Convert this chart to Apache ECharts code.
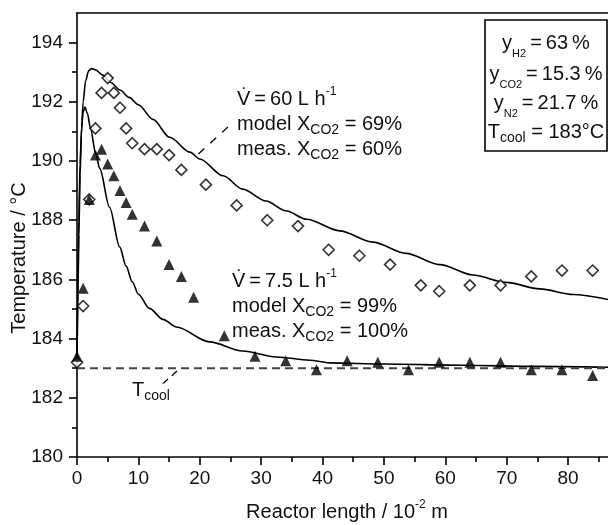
<!DOCTYPE html>
<html><head><meta charset="utf-8">
<script src="https://cdn.jsdelivr.net/npm/echarts@6/dist/echarts.min.js"></script>
<style>html,body{margin:0;padding:0;background:#fff}#c{width:608px;height:525px}</style>
</head><body><div id="c"></div>
<script>
// ---- tick labels ----
const xMajorTicks = [0,10,20,30,40,50,60,70,80];
const xMinorTicks = [5,15,25,35,45,55,65,75,85];
const yMajorTicks = [180,182,184,186,188,190,192,194];
const yMinorTicks = [181,183,185,187,189,191,193];

// ---- measured, 60 L/h (open diamonds) ----
const meas60X = [0,1,2,3,4,5,6,7,8,9,11,13,15,17,21,26,31,36,41,46,51,56,59,64,69,74,79,84];
const meas60T = [183.2,185.1,188.7,191.1,192.3,192.8,192.3,191.8,191.1,190.6,190.4,190.4,190.2,189.7,189.2,188.5,188.0,187.8,187.0,186.8,186.5,185.8,185.6,185.8,185.8,186.1,186.3,186.3];

// ---- measured, 7.5 L/h (filled triangles) ----
const meas75X = [0,1,2,3,4,5,6,7,8,9,11,13,15,17,19,24,29,34,39,44,49,54,59,64,69,74,79,84];
const meas75T = [183.4,185.7,188.7,190.2,190.4,189.9,189.5,189.0,188.6,188.2,187.8,187.3,186.5,186.1,185.4,184.1,183.4,183.25,182.95,183.25,183.2,182.95,183.2,183.2,183.2,182.95,182.95,182.75];

// ---- model, 60 L/h ----
const model60X = [0,0.15,0.3,0.5,0.7,1.0,1.4,1.9,2.4,3.0,4.2,5.5,7,8.5,10,12.4,15.1,18.4,20,23.8,27,30.8,34,37.4,42.8,48.2,53.6,59.1,64.5,69.9,75.4,80.8,86.5];
const model60T = [183.2,185.5,187.5,189.5,190.9,192.0,192.7,193.05,193.12,193.08,192.9,192.65,192.4,192.15,191.9,191.4,190.8,190.3,190.07,189.5,189.05,188.65,188.32,188.03,187.64,187.26,186.88,186.5,186.15,185.9,185.68,185.49,185.32];

// ---- model, 7.5 L/h ----
const model75X = [0,0.15,0.3,0.5,0.75,1.0,1.3,1.7,2.2,3.05,3.7,5.3,6.95,8.0,9.0,10,11.8,14,16.2,21.6,27,32.5,37.9,41.2,50,62.9,75,86.5];
const model75T = [183.2,185.8,188.0,189.9,191.1,191.65,191.82,191.6,191.1,190.24,189.75,188.44,187.1,186.45,185.92,185.5,185.02,184.65,184.39,183.89,183.58,183.38,183.27,183.18,183.14,183.1,183.06,183.03];

// ---- coolant temperature ----
const coolX = [0,86.5];
const coolT = [183,183];

const zip = (a,b) => a.map((v,i)=>[v,b[i]]);
const FONT = '"Liberation Sans", Arial, sans-serif';
const TXT = '#111';
const X_MIN = 0, X_MAX = 86.5, Y_MIN = 180, Y_MAX = 195;
const axisLineStyle = {color:'#000', width:1.6};

const chart = echarts.init(document.getElementById('c'), null, {renderer:'canvas'});

function richBase(size, lh){
  return {
    m:{fontSize:size, fontFamily:FONT, color:TXT, lineHeight:lh},
    sub:{fontSize:14, fontFamily:FONT, color:TXT, lineHeight:14, verticalAlign:'bottom'},
    ssub:{fontSize:11, fontFamily:FONT, color:TXT, lineHeight:11, verticalAlign:'bottom'},
    sup:{fontSize:12, fontFamily:FONT, color:TXT, lineHeight:12, verticalAlign:'top'}
  };
}
function txt(x, y, text, align, lh, extra){
  return Object.assign({
    type:'text', x:x, y:y, silent:true,
    style:{text:text, rich:richBase(20, lh||26), textAlign:align||'left', textVerticalAlign:'middle', fill:TXT, font:'20px '+FONT}
  }, extra||{});
}

const option = {
  animation:false,
  backgroundColor:'#fff',
  grid:{left:77, right:0, top:13, bottom:68, containLabel:false},
  xAxis:[
    {type:'value', min:X_MIN, max:X_MAX, position:'bottom',
     axisLine:{show:true, onZero:false, lineStyle:axisLineStyle},
     axisTick:{show:true, inside:false, length:8, customValues:xMajorTicks, lineStyle:axisLineStyle},
     axisLabel:{customValues:xMajorTicks, margin:12, fontSize:19, color:TXT, fontFamily:FONT},
     splitLine:{show:false}},
    {type:'value', min:X_MIN, max:X_MAX, position:'bottom',
     axisLine:{show:false, onZero:false},
     axisTick:{show:true, inside:false, length:5, customValues:xMinorTicks, lineStyle:axisLineStyle},
     axisLabel:{show:false}, splitLine:{show:false}},
    {type:'value', min:X_MIN, max:X_MAX, position:'top',
     axisLine:{show:true, onZero:false, lineStyle:axisLineStyle},
     axisTick:{show:false}, axisLabel:{show:false}, splitLine:{show:false}}
  ],
  yAxis:[
    {type:'value', min:Y_MIN, max:Y_MAX, position:'left',
     axisLine:{show:true, onZero:false, lineStyle:axisLineStyle},
     axisTick:{show:true, inside:false, length:8, customValues:yMajorTicks, lineStyle:axisLineStyle},
     axisLabel:{customValues:yMajorTicks, margin:14, fontSize:19, color:TXT, fontFamily:FONT},
     splitLine:{show:false}},
    {type:'value', min:Y_MIN, max:Y_MAX, position:'left',
     axisLine:{show:false, onZero:false},
     axisTick:{show:true, inside:false, length:5, customValues:yMinorTicks, lineStyle:axisLineStyle},
     axisLabel:{show:false}, splitLine:{show:false}}
  ],
  series:[
    {type:'line', name:'model 60', data:zip(model60X, model60T), smooth:0.3, smoothMonotone:'x', symbol:'none',
     lineStyle:{color:'#000', width:1.6}, z:2},
    {type:'line', name:'model 7.5', data:zip(model75X, model75T), smooth:0.3, smoothMonotone:'x', symbol:'none',
     lineStyle:{color:'#000', width:1.6}, z:2},
    {type:'line', name:'Tcool', data:zip(coolX, coolT), symbol:'none',
     lineStyle:{color:'#444', width:2, type:[8,5]}, z:2},
    {type:'scatter', name:'meas 60', data:zip(meas60X, meas60T), symbol:'diamond', symbolSize:11,
     itemStyle:{color:'#fff', borderColor:'#000', borderWidth:1.6}, z:3},
    {type:'scatter', name:'meas 7.5', data:zip(meas75X, meas75T), symbol:'triangle', symbolSize:11,
     itemStyle:{color:'#000'}, z:4}
  ],
  graphic:[
    // axis titles
    txt(19, 258, '{m|Temperature / °C}', 'center', 26, {rotation:Math.PI/2}),
    txt(347, 512, '{m|Reactor length / 10}{sup|-2}{m| m}', 'center', 26),
    // 60 L/h block
    txt(237, 99, '{m|V\u0307\u2009=\u200960 L h}{sup|-1}', 'left', 26),
    txt(237, 124, '{m|model X}{sub|CO2}{m| = 69%}', 'left', 26),
    txt(237, 149, '{m|meas. X}{sub|CO2}{m| = 60%}', 'left', 26),
    // 7.5 L/h block
    txt(232, 281, '{m|V\u0307\u2009=\u20097.5 L h}{sup|-1}', 'left', 26),
    txt(232, 306, '{m|model X}{sub|CO2}{m| = 99%}', 'left', 26),
    txt(232, 331, '{m|meas. X}{sub|CO2}{m| = 100%}', 'left', 26),
    // Tcool label
    txt(132, 390, '{m|T}{sub|cool}', 'left', 26),
    // leader lines
    {type:'line', silent:true, shape:{x1:228, y1:127, x2:195, y2:157}, style:{stroke:'#000', lineWidth:1.3, lineDash:[8,8]}},
    {type:'line', silent:true, shape:{x1:177, y1:371, x2:159, y2:387}, style:{stroke:'#000', lineWidth:1.3, lineDash:[7,5]}},
    // info box
    {type:'rect', silent:true, shape:{x:485, y:20, width:122, height:131}, style:{fill:'#fff', stroke:'#000', lineWidth:1.6}},
    txt(546, 43, '{m|y}{ssub|H2}{m|\u2009=\u200963\u2009%}', 'center', 33),
    txt(546, 74, '{m|y}{ssub|CO2}{m|\u2009=\u200915.3\u2009%}', 'center', 33),
    txt(546, 103, '{m|y}{ssub|N2}{m|\u2009=\u200921.7\u2009%}', 'center', 33),
    txt(546, 132, '{m|T}{sub|cool}{m| = 183°C}', 'center', 26)
  ]
};
chart.setOption(option);
</script>
</body></html>
